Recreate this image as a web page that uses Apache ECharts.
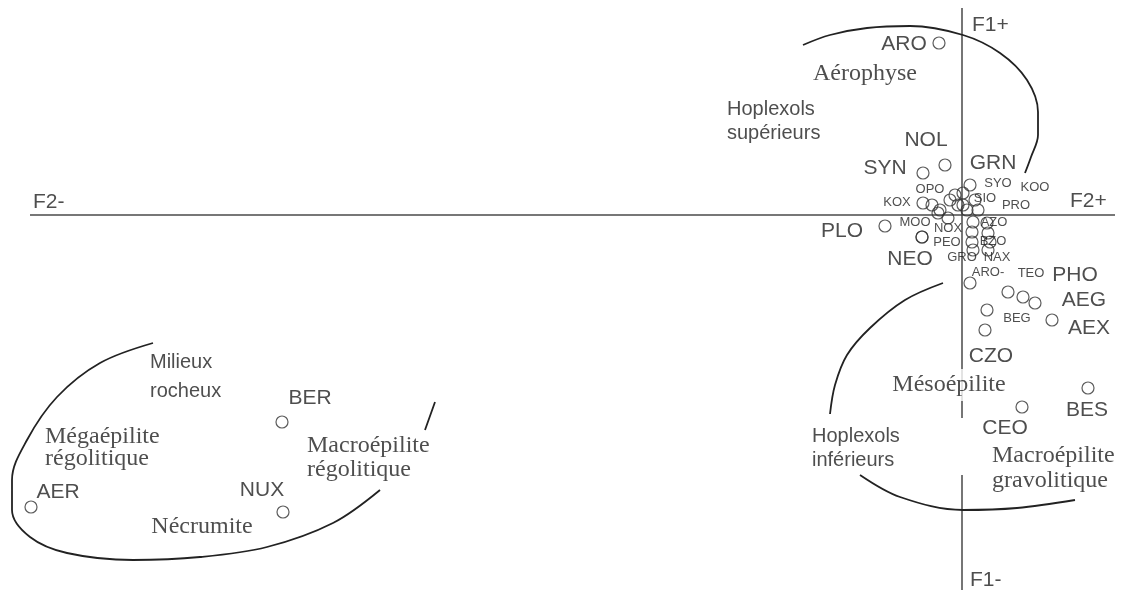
<!DOCTYPE html>
<html>
<head>
<meta charset="utf-8">
<script src="https://cdn.jsdelivr.net/npm/echarts@6/dist/echarts.min.js"></script>
<style>
html,body{margin:0;padding:0;background:#fff;}
#chart{width:1131px;height:594px;}
</style>
</head>
<body>
<div id="chart"></div>
<script>
// ---- Data (factor plane: F2 horizontal, F1 vertical) ----
var pointNames = ['ARO','NOL','SYN','GRN','SYO','KOO','OPO','KOX','SIO','PRO','MOO','NOX','AZO','PEO','NEO','BZO','GRO','NAX','ARO-','TEO','PHO','AEG','BEG','AEX','CZO','BES','CEO','PLO','BER','NUX','AER'];
var pointF2 = [-0.23,-0.17,-0.39,0.08,0.01,0.13,-0.07,-0.39,0.01,0.16,-0.24,-0.14,0.11,-0.40,-0.40,0.10,0.10,0.11,0.08,0.46,0.61,0.73,0.25,0.90,0.23,1.26,0.60,-0.77,-6.80,-6.79,-9.31];
var pointF1 = [1.72,0.50,0.42,0.30,0.22,0.15,0.20,0.12,0.10,0.05,0.02,-0.03,-0.07,-0.22,-0.22,-0.27,-0.17,-0.35,-0.68,-0.77,-0.82,-0.88,-0.95,-1.05,-1.15,-1.73,-1.92,-0.11,-2.07,-2.97,-2.92];

// unlabeled points inside the central cluster
var extraF2 = [-0.12,-0.22,-0.30,0.05,0.25,0.26,0.28,0.26,-0.04];
var extraF1 = [0.15,0.05,0.10,0.05,-0.08,-0.18,-0.27,-0.35,0.10];

// region names
var regionNames = ['Aérophyse','Hoplexols\nsupérieurs','Milieux\nrocheux','Mégaépilite\nrégolitique','Macroépilite\nrégolitique','Nécrumite','Mésoépilite','Hoplexols\ninférieurs','Macroépilite\ngravolitique'];
var regionF2 = [-0.97,-2.35,-8.12,-9.17,-6.55,-7.60,-0.13,-1.50,0.30];
var regionF1 = [1.41,0.94,-1.62,-2.33,-2.43,-3.12,-1.70,-2.33,-2.53];

// axis end labels
var axisLabelNames = ['F1+','F1-','F2-','F2+'];
var axisLabelF2 = [0.10,0.08,-9.29,1.08];
var axisLabelF1 = [1.90,-3.65,0.13,0.14];

// axis extents (null = interruption in the drawn axis line)
var axisF2LineX = [-9.32, 1.53];
var axisF1LineY = [2.07, -2.03, null, -2.60, -3.75];

// hand-drawn enclosing curves (null = interruption behind a text)
var curveTopF2 = [-1.59,-1.32,-0.95,-0.52,0.01,0.38,0.65,0.76,0.76,0.69,0.63];
var curveTopF1 = [1.70,1.80,1.87,1.89,1.80,1.62,1.35,1.03,0.80,0.58,0.42];
var curveRightF2 = [-0.19,-0.57,-0.92,-1.15,-1.27,-1.32,null,-1.02,-0.62,0.01,0.55,1.13];
var curveRightF1 = [-0.68,-0.85,-1.13,-1.40,-1.70,-1.99,null,-2.60,-2.82,-2.95,-2.93,-2.85];
var curveLeftF2 = [-8.09,-8.62,-9.05,-9.35,-9.50,-9.50,-9.32,-8.95,-8.29,-7.62,-6.95,-6.29,-5.82,null,-5.37,-5.27];
var curveLeftF1 = [-1.28,-1.48,-1.82,-2.25,-2.65,-2.95,-3.22,-3.38,-3.45,-3.42,-3.32,-3.08,-2.75,null,-2.15,-1.87];

// ---- Layout / style (label placement, in pixels) ----
var labelOffsets = {
  'ARO':[-35,1],'NOL':[-19,-25],'SYN':[-38,-5],'GRN':[23,-22],'SYO':[35,-10],'KOO':[60,-13],
  'OPO':[-25,-6],'KOX':[-26,-1],'SIO':[22,-7],'PRO':[38,-5],'MOO':[-23,9],'NOX':[0,10],
  'AZO':[21,0],'PEO':[25,5],'NEO':[-12,22],'BZO':[21,-1],'GRO':[-10,25],'NAX':[24,7],
  'ARO-':[18,-11],'TEO':[23,-19],'PHO':[52,-22],'AEG':[49,-3],'BEG':[30,8],'AEX':[37,8],
  'CZO':[6,26],'BES':[-1,22],'CEO':[-17,21],'PLO':[-43,5],'BER':[28,-24],'NUX':[-21,-22],'AER':[27,-15]
};
var smallLabels = ['SYO','KOO','OPO','KOX','SIO','PRO','MOO','NOX','AZO','PEO','BZO','GRO','NAX','ARO-','TEO','BEG'];
var regionStyles = [
  {font:'serif',align:'center'},
  {font:'sans',align:'left',lh:24},
  {font:'sans',align:'left',lh:29},
  {font:'serif',align:'left',lh:22},
  {font:'serif',align:'left',lh:24},
  {font:'serif',align:'center'},
  {font:'serif',align:'center',bg:[3,4,3,4]},
  {font:'sans',align:'left',lh:24},
  {font:'serif',align:'left',lh:25}
];

var SANS = '"Liberation Sans", Arial, sans-serif';
var SERIF = '"Liberation Serif", "Times New Roman", serif';
var INK = '#222';

function zip(a,b){ return a.map(function(v,i){ return (v === null || b[i] === null) ? '-' : [v,b[i]]; }); }

var pointData = pointNames.map(function(n,i){
  var small = smallLabels.indexOf(n) >= 0;
  return {
    name: n,
    value: [pointF2[i], pointF1[i]],
    label: { offset: labelOffsets[n], fontSize: small ? 13 : 21 }
  };
});

var regionData = regionNames.map(function(n,i){
  var s = regionStyles[i];
  var lab = {
    fontFamily: s.font === 'serif' ? SERIF : SANS,
    fontSize: s.font === 'serif' ? 24 : 20,
    align: s.align,
    lineHeight: s.lh || 26
  };
  if (s.bg) { lab.backgroundColor = '#fff'; lab.padding = s.bg; }
  return { name: n, value: [regionF2[i], regionF1[i]], label: lab };
});

var axisLabelData = axisLabelNames.map(function(n,i){
  return { name: n, value: [axisLabelF2[i], axisLabelF1[i]] };
});

function curve(f2, f1){
  return {
    type:'line', data: zip(f2,f1), smooth:0.35, symbol:'none', z:2, silent:true, connectNulls:false,
    lineStyle:{color:INK, width:1.8}
  };
}

var chart = echarts.init(document.getElementById('chart'));
chart.setOption({
  animation:false,
  backgroundColor:'#fff',
  grid:{left:0,right:0,top:0,bottom:0},
  xAxis:{type:'value',min:-9.62,max:1.69,show:false},
  yAxis:{type:'value',min:-3.79,max:2.15,show:false},
  series:[
    { type:'line', data: zip(axisF2LineX, axisF2LineX.map(function(){ return 0; })), symbol:'none', z:1, silent:true,
      lineStyle:{color:'#4a4a4a', width:1.5} },
    { type:'line', data: zip(axisF1LineY.map(function(v){ return v === null ? null : 0; }), axisF1LineY),
      symbol:'none', z:1, silent:true, connectNulls:false,
      lineStyle:{color:'#4a4a4a', width:1.5} },
    curve(curveTopF2, curveTopF1),
    curve(curveRightF2, curveRightF1),
    curve(curveLeftF2, curveLeftF1),
    { type:'scatter', data: zip(extraF2, extraF1), symbol:'circle', symbolSize:12, z:3, silent:true,
      itemStyle:{color:'rgba(0,0,0,0)', borderColor:'#333', borderWidth:1.2} },
    { type:'scatter', data: pointData, symbol:'circle', symbolSize:12, z:3, silent:true,
      itemStyle:{color:'rgba(0,0,0,0)', borderColor:'#333', borderWidth:1.2},
      label:{show:true, position:'inside', formatter:'{b}', color:INK, fontFamily:SANS, fontSize:21} },
    { type:'scatter', data: regionData, symbol:'circle', symbolSize:1, z:5, silent:true,
      itemStyle:{color:'rgba(0,0,0,0)'},
      label:{show:true, position:'inside', verticalAlign:'middle', formatter:'{b}', color:INK} },
    { type:'scatter', data: axisLabelData, symbol:'circle', symbolSize:1, z:5, silent:true,
      itemStyle:{color:'rgba(0,0,0,0)'},
      label:{show:true, position:'inside', align:'left', verticalAlign:'middle', formatter:'{b}',
             color:INK, fontFamily:SANS, fontSize:21} }
  ]
});
</script>
</body>
</html>
